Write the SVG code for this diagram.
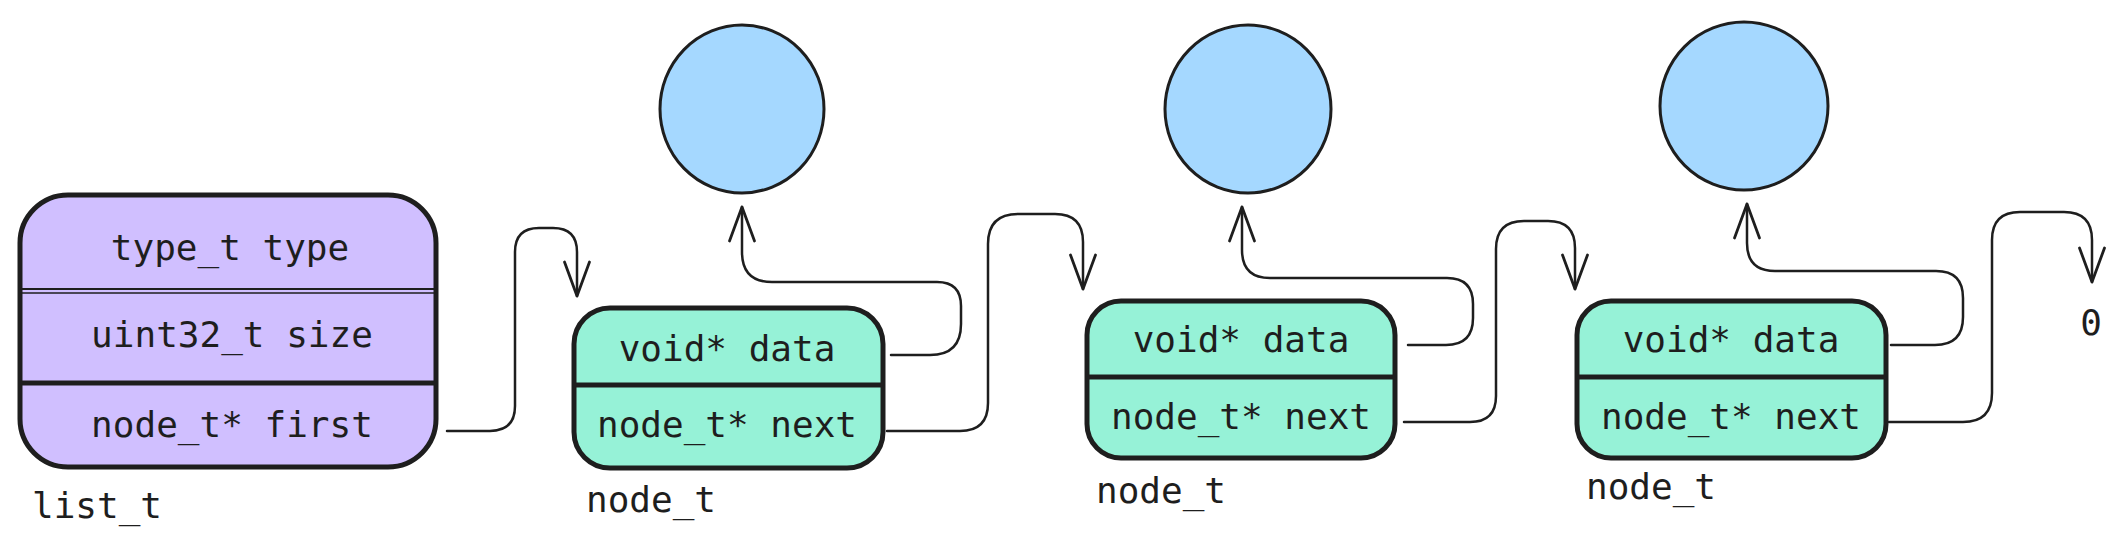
<svg xmlns="http://www.w3.org/2000/svg" width="2123" height="553" viewBox="0 0 2123 553">
<defs>
<style>
.txt{font-family:"DejaVu Sans Mono","Liberation Mono",monospace;font-size:36px;fill:#1e1e1e}
.mid{text-anchor:middle;dominant-baseline:central}
.box{stroke:#1e1e1e;stroke-width:5}
.list{fill:#d0bfff}
.node{fill:#96f2d7}
.data{fill:#a5d8ff;stroke:#1e1e1e;stroke-width:3}
.div{stroke:#1e1e1e;stroke-width:5;fill:none}
.conn{fill:none;stroke:#1e1e1e;stroke-width:2.5;stroke-linecap:round;stroke-linejoin:round}
</style>
<marker id="arr" markerUnits="userSpaceOnUse" markerWidth="44" markerHeight="40" refX="36" refY="20" orient="auto" viewBox="0 0 44 40">
<path d="M2,7.5 L36,20 L2,32.5" fill="none" stroke="#1e1e1e" stroke-width="2.8" stroke-linecap="round" stroke-linejoin="round"/>
</marker>
</defs>
<rect width="2123" height="553" fill="#ffffff"/>

<g id="list">
<rect class="box list" x="20" y="195" width="416" height="272" rx="48"/>
<line x1="20" y1="289" x2="436" y2="289" stroke="#1e1e1e" stroke-width="2"/>
<line x1="20" y1="293" x2="436" y2="293" stroke="#1e1e1e" stroke-width="1.5"/>
<line class="div" x1="20" y1="383" x2="438" y2="383"/>
<text class="txt mid" x="230" y="247">type_t type</text>
<text class="txt mid" x="232" y="334">uint32_t size</text>
<text class="txt mid" x="232" y="424">node_t* first</text>
<text class="txt" x="32" y="518">list_t</text>
</g>

<g id="data1"><ellipse class="data" cx="742" cy="109" rx="82" ry="84"/></g>
<g id="data2"><ellipse class="data" cx="1248" cy="109" rx="83" ry="84"/></g>
<g id="data3"><ellipse class="data" cx="1744" cy="106" rx="84" ry="84"/></g>

<g id="node1">
<rect class="box node" x="574" y="308" width="309" height="160" rx="36"/>
<line class="div" x1="574" y1="385" x2="883" y2="385"/>
<text class="txt mid" x="727" y="348">void* data</text>
<text class="txt mid" x="727" y="424">node_t* next</text>
<text class="txt" x="586" y="512">node_t</text>
</g>

<g id="node2">
<rect class="box node" x="1087" y="301" width="308" height="157" rx="34"/>
<line class="div" x1="1087" y1="377" x2="1395" y2="377"/>
<text class="txt mid" x="1241" y="339">void* data</text>
<text class="txt mid" x="1241" y="416">node_t* next</text>
<text class="txt" x="1096" y="503">node_t</text>
</g>

<g id="node3">
<rect class="box node" x="1577" y="301" width="309" height="157" rx="34"/>
<line class="div" x1="1577" y1="377" x2="1886" y2="377"/>
<text class="txt mid" x="1731" y="339">void* data</text>
<text class="txt mid" x="1731" y="416">node_t* next</text>
<text class="txt" x="1586" y="499">node_t</text>
</g>

<g id="null">
<text class="txt mid" x="2091" y="322">0</text>
</g>

<g id="connectors">
<path class="conn" marker-end="url(#arr)" d="M447,431 L490,431 Q515,431 515,406 L515,252 Q515,228 539,228 L553,228 Q577,228 577,252 L577,296"/>
<path class="conn" marker-end="url(#arr)" d="M891,355 L930,355 Q961,355 961,324 L961,306 Q961,282 937,282 L772,282 Q742,282 742,252 L742,207"/>
<path class="conn" marker-end="url(#arr)" d="M887,431 L960,431 Q988,431 988,403 L988,244 Q988,214 1018,214 L1055,214 Q1083,214 1083,242 L1083,289"/>
<path class="conn" marker-end="url(#arr)" d="M1408,345 L1446,345 Q1473,345 1473,318 L1473,304 Q1473,278 1447,278 L1270,278 Q1242,278 1242,250 L1242,207"/>
<path class="conn" marker-end="url(#arr)" d="M1404,422 L1470,422 Q1496,422 1496,396 L1496,249 Q1496,221 1524,221 L1548,221 Q1575,221 1575,248 L1575,289"/>
<path class="conn" marker-end="url(#arr)" d="M1891,345 L1935,345 Q1963,345 1963,317 L1963,298 Q1963,271 1936,271 L1775,271 Q1747,271 1747,243 L1747,204"/>
<path class="conn" marker-end="url(#arr)" d="M1889,422 L1963,422 Q1992,422 1992,393 L1992,240 Q1992,212 2020,212 L2064,212 Q2092,212 2092,240 L2092,282"/>
</g>
</svg>
